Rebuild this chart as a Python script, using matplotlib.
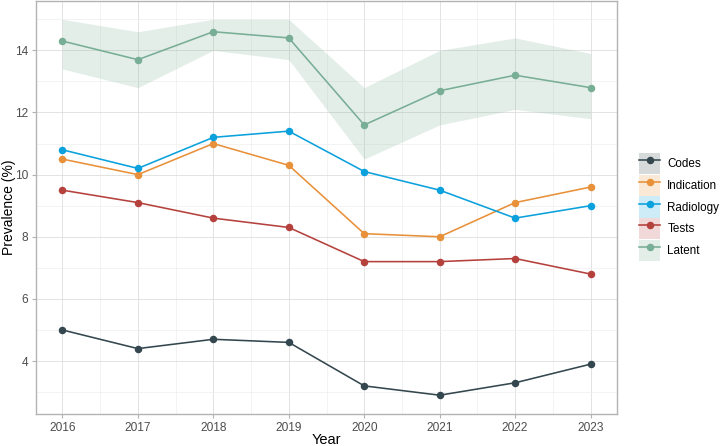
import matplotlib
matplotlib.use("Agg")
import matplotlib.pyplot as plt
from matplotlib.lines import Line2D
from matplotlib.patches import Patch
from matplotlib.legend_handler import HandlerTuple
from matplotlib.ticker import MultipleLocator

plt.rcParams['font.family'] = ['Liberation Sans', 'DejaVu Sans']

years = [2016, 2017, 2018, 2019, 2020, 2021, 2022, 2023]
series_names = ["Codes", "Indication", "Radiology", "Tests", "Latent"]
codes = [5.0, 4.4, 4.7, 4.6, 3.2, 2.9, 3.3, 3.9]
indication = [10.5, 10.0, 11.0, 10.3, 8.1, 8.0, 9.1, 9.6]
radiology = [10.8, 10.2, 11.2, 11.4, 10.1, 9.5, 8.6, 9.0]
tests = [9.5, 9.1, 8.6, 8.3, 7.2, 7.2, 7.3, 6.8]
latent = [14.3, 13.7, 14.6, 14.4, 11.6, 12.7, 13.2, 12.8]
latent_lower = [13.4, 12.8, 14.0, 13.7, 10.5, 11.6, 12.1, 11.8]
latent_upper = [15.0, 14.6, 15.0, 15.0, 12.8, 14.0, 14.4, 13.9]

colors = {"Codes": "#34474F", "Indication": "#E8913A", "Radiology": "#0AA1DC",
          "Tests": "#B5413D", "Latent": "#78AE95"}
values = {"Codes": codes, "Indication": indication, "Radiology": radiology,
          "Tests": tests, "Latent": latent}

LW = 1.15
MS = 4.4

fig = plt.figure(figsize=(7.2, 4.46), dpi=100)
ax = fig.add_axes([36/720, 32/446, (617-36)/720, (414-0.5)/446])

ax.fill_between(years, latent_lower, latent_upper, color=colors["Latent"], alpha=0.2, linewidth=0, zorder=2)
for name in series_names:
    ax.plot(years, values[name], color=colors[name], lw=LW, marker='o', ms=MS, zorder=3)

ax.set_xlim(2015.65, 2023.35)
ax.set_ylim(2.295, 15.605)
ax.set_xticks(years)
ax.xaxis.set_minor_locator(MultipleLocator(0.5))
ax.set_yticks([4, 6, 8, 10, 12, 14])
ax.yaxis.set_minor_locator(MultipleLocator(1))
ax.grid(which='major', color='#DEDEDE', lw=0.6, zorder=0)
ax.grid(which='minor', color='#EEEEEE', lw=0.5, zorder=0)
ax.set_axisbelow(True)
for s in ax.spines.values():
    s.set_color('#B3B3B3')
    s.set_linewidth(1.0)
ax.tick_params(which='major', length=3, color='#B3B3B3', labelsize=8.6, labelcolor='#4D4D4D', pad=2.5)
ax.tick_params(which='minor', length=0)
ax.set_xlabel("Year", fontsize=10.5)
ax.set_ylabel("Prevalence (%)", fontsize=10)
ax.xaxis.set_label_coords(0.5, -(440 - 414) / 413.5, transform=ax.transAxes)
ax.yaxis.set_label_coords(-(36 - 9) / 581, 0.5, transform=ax.transAxes)
ax.xaxis.label.set_va('center')
ax.yaxis.label.set_va('center')

handles = []
for name in series_names:
    p = Patch(facecolor=colors[name], alpha=0.2, edgecolor='none')
    l = Line2D([], [], color=colors[name], lw=LW, marker='o', ms=MS)
    handles.append((p, l))
leg = fig.legend(handles, series_names, handler_map={tuple: HandlerTuple(ndivide=1, pad=0)},
                 loc='center left', bbox_to_anchor=(637/720, (446 - 207)/446), frameon=False,
                 fontsize=8.4, handlelength=1.8, handleheight=2.4, labelspacing=0.06,
                 handletextpad=0.6, borderpad=0.2, borderaxespad=0)

fig.savefig("out.png", dpi=100)
